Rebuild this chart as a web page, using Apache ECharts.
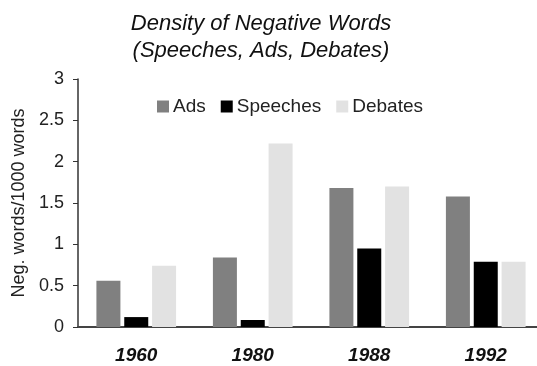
<!DOCTYPE html>
<html>
<head>
<meta charset="utf-8">
<script src="https://cdn.jsdelivr.net/npm/echarts@6/dist/echarts.min.js"></script>
<style>
  html, body { margin: 0; padding: 0; background: #fff; }
  #chart { width: 537px; height: 366px; }
</style>
</head>
<body>
<div id="chart"></div>
<script>
// Campaign years and negative-word density per medium
const years = ['1960', '1980', '1988', '1992'];
const ads = [0.56, 0.84, 1.68, 1.58];
const speeches = [0.12, 0.085, 0.95, 0.79];
const debates = [0.74, 2.22, 1.70, 0.79];
const yTicks = { min: 0, max: 3, interval: 0.5 };

const FONT = '"Liberation Sans", Arial, sans-serif';
const chart = echarts.init(document.getElementById('chart'), null, { renderer: 'canvas' });

const bar = (name, data, color) => ({
  name,
  type: 'bar',
  data,
  barWidth: 24,
  barGap: '16%',
  itemStyle: { color },
  emphasis: { disabled: true }
});

chart.setOption({
  animation: false,
  backgroundColor: '#fff',
  title: {
    text: 'Density of Negative Words\n(Speeches, Ads, Debates)',
    left: 261,
    top: 10,
    padding: 0,
    textAlign: 'center',
    textStyle: {
      fontFamily: FONT,
      fontSize: 22,
      fontStyle: 'italic',
      fontWeight: 'normal',
      color: '#111',
      lineHeight: 27
    }
  },
  legend: {
    left: 157,
    top: 97,
    padding: 0,
    itemWidth: 12,
    itemHeight: 12,
    itemGap: 15,
    icon: 'rect',
    textStyle: { fontFamily: FONT, fontSize: 19, color: '#222', padding: [0, 0, 0, -1] },
    data: ['Ads', 'Speeches', 'Debates']
  },
  grid: {
    left: 78, top: 79, width: 466, height: 248,
    containLabel: false,
    outerBoundsMode: 'none'
  },
  xAxis: {
    type: 'category',
    data: years,
    axisLine: { lineStyle: { color: '#444', width: 2 } },
    axisTick: { show: false },
    axisLabel: {
      fontFamily: FONT,
      fontSize: 19,
      fontStyle: 'italic',
      fontWeight: 'bold',
      color: '#111',
      margin: 19
    }
  },
  yAxis: {
    type: 'value',
    min: yTicks.min,
    max: yTicks.max,
    interval: yTicks.interval,
    name: 'Neg. words/1000 words',
    nameLocation: 'middle',
    nameRotate: 90,
    nameGap: 49,
    nameTextStyle: { fontFamily: FONT, fontSize: 18, color: '#222' },
    axisLine: { show: true, lineStyle: { color: '#333', width: 1.5 } },
    axisTick: { show: true, length: 5, lineStyle: { color: '#333' } },
    axisLabel: { fontFamily: FONT, fontSize: 18, color: '#222', margin: 14 },
    splitLine: { show: false }
  },
  series: [
    bar('Ads', ads, '#808080'),
    bar('Speeches', speeches, '#000000'),
    bar('Debates', debates, '#e2e2e2')
  ]
});
</script>
</body>
</html>
